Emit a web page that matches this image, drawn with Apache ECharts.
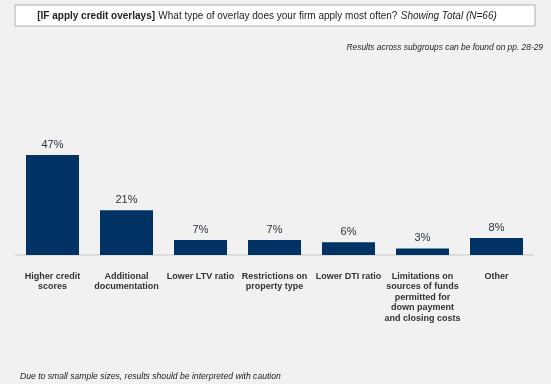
<!DOCTYPE html>
<html><head><meta charset="utf-8">
<script src="https://cdn.jsdelivr.net/npm/echarts@6/dist/echarts.min.js"></script>
<style>html,body{margin:0;padding:0;background:#f1f1f1;}#c{width:551px;height:384px;}</style>
</head><body><div id="c"></div>
<script>
const categories = ['Higher credit\nscores','Additional\ndocumentation','Lower LTV ratio','Restrictions on\nproperty type','Lower DTI ratio','Limitations on\nsources of funds\npermitted for\ndown payment\nand closing costs','Other'];
const values = [47, 21, 7, 7, 6, 3, 8];
const F = 'Liberation Sans, Arial, Helvetica, sans-serif';
const chart = echarts.init(document.getElementById('c'));
chart.setOption({
  backgroundColor: '#f1f1f1',
  animation: false,
  grid: {left: 15.5, right: 17.5, top: 148.6, bottom: 129},
  xAxis: {
    type: 'category', data: categories,
    axisLine: {show: true, lineStyle: {color: '#dcdcdc', width: 2}},
    axisTick: {show: false},
    axisLabel: {interval: 0, margin: 16, fontFamily: F, fontSize: 9, fontWeight: 'bold', color: '#333', lineHeight: 10.5}
  },
  yAxis: {type: 'value', min: 0, max: 50, show: false, splitLine: {show: false}},
  series: [{
    type: 'bar', data: values, barWidth: 53,
    itemStyle: {color: '#003263'},
    label: {show: true, position: 'top', distance: 5, formatter: '{c}%', fontFamily: F, fontSize: 11, color: '#2a3340'}
  }],
  graphic: [
    {type: 'rect', shape: {x: 15, y: 5, width: 520, height: 21}, style: {fill: '#fff', stroke: '#b0b0b0', lineWidth: 1}},
    {type: 'text', x: 267, y: 16, style: {
      text: '{b|[IF apply credit overlays]} {n|What type of overlay does your firm apply most often?} {i|Showing Total (N=66)}',
      align: 'center', verticalAlign: 'middle',
      rich: {
        b: {fontFamily: F, fontSize: 10, fontWeight: 'bold', fill: '#222'},
        n: {fontFamily: F, fontSize: 10, fill: '#222'},
        i: {fontFamily: F, fontSize: 10, fontStyle: 'italic', fill: '#222'}
      }
    }},
    {type: 'text', x: 543, y: 48, style: {text: 'Results across subgroups can be found on pp. 28-29', align: 'right', verticalAlign: 'middle', fontFamily: F, fontSize: 8.4, fontStyle: 'italic', fill: '#222'}},
    {type: 'text', x: 20, y: 377, style: {text: 'Due to small sample sizes, results should be interpreted with caution', align: 'left', verticalAlign: 'middle', fontFamily: F, fontSize: 8.6, fontStyle: 'italic', fill: '#222'}}
  ]
});
</script></body></html>
